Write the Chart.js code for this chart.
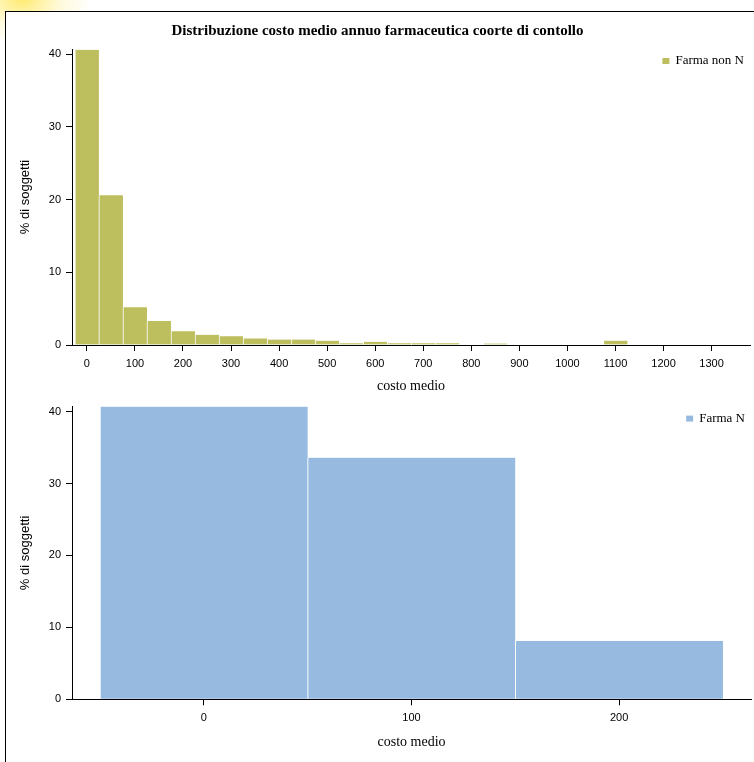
<!DOCTYPE html>
<html>
<head>
<meta charset="utf-8">
<script src="https://cdn.jsdelivr.net/npm/chart.js@4.4.0/dist/chart.umd.min.js"></script>
<style>
  html, body { margin: 0; padding: 0; background: #fff; overflow: hidden; }
  body { width: 754px; height: 762px; position: relative; }
  .glow {
    position: absolute; left: 0; top: 0; width: 90px; height: 90px;
    background: radial-gradient(ellipse 70px 45px at 22px 0px, rgba(255, 232, 90, 0.85), rgba(255, 240, 150, 0.35) 55%, rgba(255, 255, 255, 0) 100%);
  }
  .frame {
    position: absolute; left: 5px; top: 11px; width: 800px; height: 800px;
    border: 1px solid #000; background: #fff;
  }
  canvas { position: absolute; left: 5px; }
  #top { top: 12px; }
  #bottom { top: 395px; }
</style>
</head>
<body>
<div class="glow"></div>
<div class="frame"></div>
<canvas id="top" width="758" height="383"></canvas>
<canvas id="bottom" width="758" height="356"></canvas>
<script>
// Farma non N: bin centres (costo medio) and % of subjects
const costoNonN = [0, 50, 100, 150, 200, 250, 300, 350, 400, 450, 500, 550, 600, 650, 700, 750, 850, 1100];
const pctNonN = [40.6, 20.6, 5.2, 3.3, 1.9, 1.4, 1.2, 0.9, 0.75, 0.75, 0.6, 0.25, 0.45, 0.25, 0.25, 0.25, 0.2, 0.6];

// Farma N
const costoN = [0, 100, 200];
const pctN = [40.7, 33.6, 8.1];

const xTicksTop = [0, 100, 200, 300, 400, 500, 600, 700, 800, 900, 1000, 1100, 1200, 1300];
const xTicksBottom = [0, 100, 200];
const yTicks = [0, 10, 20, 30, 40];

const tickFont = { family: "'Liberation Sans Narrow', 'Arial Narrow', 'Liberation Sans', sans-serif", size: 11 };
const serif = "'Liberation Serif', 'Times New Roman', serif";

// small legend drawn inside the plot, top right
const insideLegend = {
  id: 'insideLegend',
  afterDraw(chart) {
    const { ctx, chartArea } = chart;
    const ds = chart.data.datasets[0];
    ctx.save();
    ctx.font = '13px ' + serif;
    const w = ctx.measureText(ds.label).width;
    const xr = chartArea.right - 6;
    const yc = chartArea.top + 12;
    ctx.fillStyle = ds.backgroundColor;
    ctx.fillRect(xr - w - 13, yc - 3, 7, 6);
    ctx.fillStyle = '#000';
    ctx.textAlign = 'right';
    ctx.textBaseline = 'middle';
    ctx.fillText(ds.label, xr, yc);
    ctx.restore();
  }
};

function histogram(id, opts) {
  new Chart(document.getElementById(id), {
    type: 'bar',
    data: {
      datasets: [{
        label: opts.label,
        data: opts.costo.map((c, i) => ({ x: c, y: opts.pct[i] })),
        backgroundColor: opts.color,
        borderColor: '#fff',
        borderWidth: { left: 1, top: 0, right: 0, bottom: 0 },
        barPercentage: 1,
        categoryPercentage: 1
      }]
    },
    options: {
      responsive: false,
      animation: false,
      devicePixelRatio: 1,
      layout: { padding: opts.padding },
      plugins: {
        legend: { display: false },
        tooltip: { enabled: false },
        title: {
          display: !!opts.title,
          text: opts.title,
          color: '#000',
          font: { family: serif, size: 15, weight: 'bold' },
          padding: { top: 10, bottom: 9 }
        }
      },
      scales: {
        x: {
          type: 'linear',
          min: opts.xMin,
          max: opts.xMax,
          offset: false,
          afterBuildTicks: (s) => { s.ticks = opts.xTicks.map((v) => ({ value: v })); },
          afterFit: (s) => { s.height = opts.xHeight; },
          grid: { offset: false, drawOnChartArea: false, drawTicks: true, tickLength: 6, color: '#000' },
          border: { display: true, color: '#000' },
          ticks: { color: '#000', font: tickFont, padding: 6, maxRotation: 0, autoSkip: false, callback: (v) => String(v) },
          title: { display: true, text: 'costo medio', color: '#000', font: { family: serif, size: 14 }, padding: { top: 0, bottom: 0 } }
        },
        y: {
          min: 0,
          max: 40.7,
          afterBuildTicks: (s) => { s.ticks = yTicks.map((v) => ({ value: v })); },
          afterFit: (s) => { s.width = 67; },
          grid: { drawOnChartArea: false, drawTicks: true, tickLength: 6, color: '#000' },
          border: { display: true, color: '#000' },
          ticks: { color: '#000', font: tickFont, padding: 5, callback: (v) => String(v) },
          title: { display: true, text: '% di soggetti', color: '#000', font: { family: "'Liberation Sans', sans-serif", size: 13 }, padding: { top: 13, bottom: 0 } }
        }
      }
    },
    plugins: [insideLegend]
  });
}

histogram('top', {
  label: 'Farma non N',
  title: 'Distribuzione costo medio annuo farmaceutica coorte di contollo',
  costo: costoNonN,
  pct: pctNonN,
  color: '#bdbe5e',
  xMin: -31,
  xMax: 1380,
  xTicks: xTicksTop,
  xHeight: 50,
  padding: { top: 0, left: 0, right: 13, bottom: 0 }
});

histogram('bottom', {
  label: 'Farma N',
  title: '',
  costo: costoN,
  pct: pctN,
  color: '#97bbe0',
  xMin: -63.5,
  xMax: 263.5,
  xTicks: xTicksBottom,
  xHeight: 51.7,
  padding: { top: 6.5, left: 0, right: 12, bottom: 0 }
});
</script>
</body>
</html>
